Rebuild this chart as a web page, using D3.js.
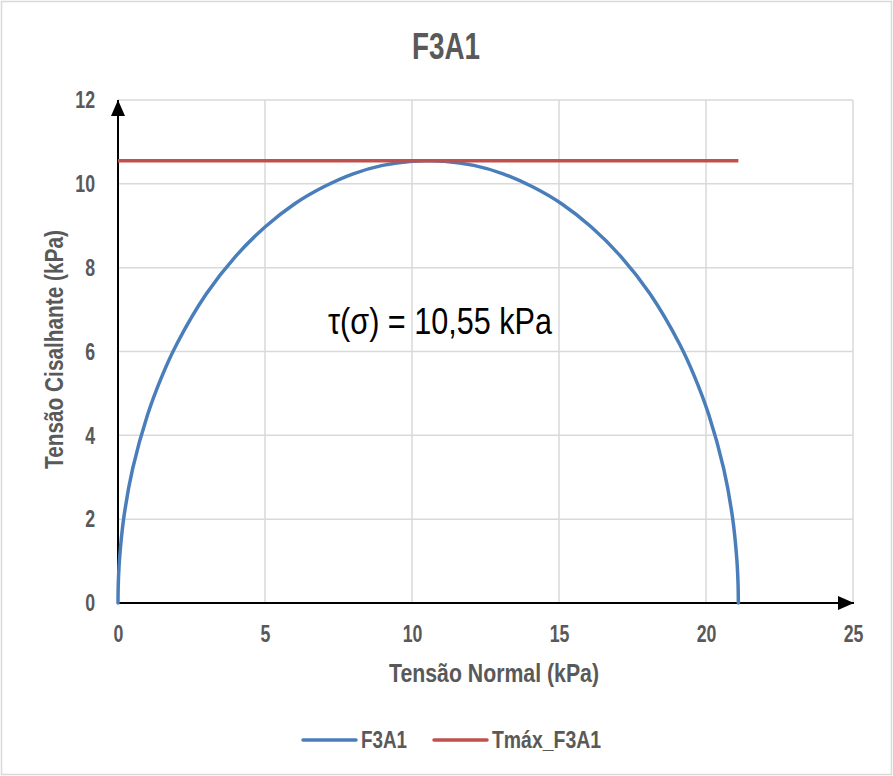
<!DOCTYPE html>
<html>
<head>
<meta charset="utf-8">
<script src="https://cdn.jsdelivr.net/npm/d3@7/dist/d3.min.js"></script>
<style>
  html, body { margin: 0; padding: 0; background: #fff; }
  svg { display: block; }
  text { font-family: "Liberation Sans", Arial, sans-serif; }
</style>
</head>
<body>
<svg id="chart" width="893" height="776"></svg>
<script>
// Mohr circle points (normal stress σ, shear stress τ), in kPa
const sigma = [0, 0.01, 0.05, 0.2, 0.5, 1, 1.5, 2, 3, 4, 5, 6, 7, 8, 9, 10, 10.55,
               11.1, 12.1, 13.1, 14.1, 15.1, 16.1, 17.1, 18.1, 19.1, 19.6, 20.1, 20.6, 20.9, 21.05, 21.09, 21.1];
const tau   = [0, 0.46, 1.03, 2.05, 3.21, 4.48, 5.42, 6.18, 7.37, 8.27, 8.97, 9.52, 9.93, 10.24, 10.44, 10.54, 10.55,
               10.54, 10.44, 10.24, 9.93, 9.52, 8.97, 8.27, 7.37, 6.18, 5.42, 4.48, 3.21, 2.05, 1.03, 0.46, 0];

// Maximum shear stress line
const tmaxSigma = [0, 21.1];
const tmaxTau   = [10.55, 10.55];

const xTicks = [0, 5, 10, 15, 20, 25];
const yTicks = [0, 2, 4, 6, 8, 10, 12];

const seriesNames = ["F3A1", "Tmáx_F3A1"];
const seriesColors = ["#4a7ebb", "#c0504d"];

const svg = d3.select("#chart");
const W = 893, H = 776;
const plot = { left: 118, right: 853, top: 100, bottom: 603 };

const x = d3.scaleLinear().domain([0, 25]).range([plot.left, plot.right]);
const y = d3.scaleLinear().domain([0, 12]).range([plot.bottom, plot.top]);

const textColor = "#595959";
const narrow = 0.74; // horizontal condensing of tick labels

// Chart frame
svg.append("rect")
  .attr("x", 1.5).attr("y", 1.5)
  .attr("width", W - 3).attr("height", H - 3)
  .attr("fill", "#fff").attr("stroke", "#d9d9d9").attr("stroke-width", 1.5);

// Condensed single-line label helper
function label(g, txt, xPos, yPos, size, bold, fill, width) {
  return g.append("text")
    .attr("x", xPos).attr("y", yPos)
    .attr("font-size", size)
    .attr("font-weight", bold ? "bold" : "normal")
    .attr("fill", fill)
    .attr("textLength", width)
    .attr("lengthAdjust", "spacingAndGlyphs")
    .text(txt);
}

// Title
label(svg, "F3A1", 412, 59, 36, true, textColor, 68);

// Gridlines
const grid = svg.append("g").attr("stroke", "#d9d9d9").attr("stroke-width", 1.5);
grid.selectAll("line.h").data(yTicks.filter(d => d > 0)).join("line")
  .attr("class", "h")
  .attr("x1", plot.left).attr("x2", plot.right)
  .attr("y1", d => y(d)).attr("y2", d => y(d));
grid.selectAll("line.v").data(xTicks.filter(d => d > 0)).join("line")
  .attr("class", "v")
  .attr("x1", d => x(d)).attr("x2", d => x(d))
  .attr("y1", plot.top).attr("y2", plot.bottom);

// Tick labels through D3 axes (no domain path or tick marks)
const xAxis = svg.append("g")
  .attr("transform", `translate(0,${plot.bottom})`)
  .call(d3.axisBottom(x).tickValues(xTicks).tickSize(0).tickPadding(22).tickFormat(d3.format("d")));
const yAxis = svg.append("g")
  .attr("transform", `translate(${plot.left},0)`)
  .call(d3.axisLeft(y).tickValues(yTicks).tickSize(0).tickPadding(31).tickFormat(d3.format("d")));
[xAxis, yAxis].forEach(g => {
  g.select(".domain").remove();
  g.selectAll("text")
    .attr("font-family", "'Liberation Sans', Arial, sans-serif")
    .attr("font-size", 24).attr("font-weight", "bold").attr("fill", textColor)
    .attr("transform", `scale(${narrow},1)`);
});

// Axis titles
label(svg, "Tensão Normal (kPa)", 389, 682, 26, true, textColor, 210);
const yTitle = svg.append("g").attr("transform", "translate(63,469) rotate(-90)");
label(yTitle, "Tensão Cisalhante (kPa)", 0, 0, 26, true, textColor, 239);

// Axis lines with arrowheads
const defs = svg.append("defs");
defs.append("marker")
  .attr("id", "arrow")
  .attr("viewBox", "0 0 16 14")
  .attr("refX", 16).attr("refY", 7)
  .attr("markerWidth", 16).attr("markerHeight", 14)
  .attr("markerUnits", "userSpaceOnUse")
  .attr("orient", "auto")
  .append("path").attr("d", "M0,0 L16,7 L0,14 Z").attr("fill", "#000");

svg.append("line")
  .attr("x1", x(0)).attr("y1", y(0))
  .attr("x2", x(25) + 1).attr("y2", y(0))
  .attr("stroke", "#000").attr("stroke-width", 2)
  .attr("marker-end", "url(#arrow)");
svg.append("line")
  .attr("x1", x(0)).attr("y1", y(0) + 1)
  .attr("x2", x(0)).attr("y2", y(12))
  .attr("stroke", "#000").attr("stroke-width", 2)
  .attr("marker-end", "url(#arrow)");

// Series
const line = d3.line()
  .x(d => x(d[0]))
  .y(d => y(d[1]))
  .curve(d3.curveCatmullRom.alpha(0.5));

const circlePts = sigma.map((s, i) => [s, tau[i]]);
const tmaxPts = tmaxSigma.map((s, i) => [s, tmaxTau[i]]);

svg.append("path")
  .datum(circlePts)
  .attr("d", line)
  .attr("fill", "none")
  .attr("stroke", seriesColors[0]).attr("stroke-width", 3.5)
  .attr("stroke-linecap", "round");

svg.append("path")
  .datum(tmaxPts)
  .attr("d", d3.line().x(d => x(d[0])).y(d => y(d[1])))
  .attr("fill", "none")
  .attr("stroke", seriesColors[1]).attr("stroke-width", 3.5);

// Annotation
label(svg, "τ(σ) = 10,55 kPa", 328, 334, 36, false, "#000", 224);

// Legend
const legend = svg.append("g");
const legendItems = [
  { name: seriesNames[0], color: seriesColors[0], x0: 303, w: 46 },
  { name: seriesNames[1], color: seriesColors[1], x0: 434, w: 109 }
];
legendItems.forEach(it => {
  legend.append("line")
    .attr("x1", it.x0).attr("x2", it.x0 + 53)
    .attr("y1", 740).attr("y2", 740)
    .attr("stroke", it.color).attr("stroke-width", 3.5)
    .attr("stroke-linecap", "round");
  label(legend, it.name, it.x0 + 58, 748, 24, true, textColor, it.w);
});
</script>
</body>
</html>
